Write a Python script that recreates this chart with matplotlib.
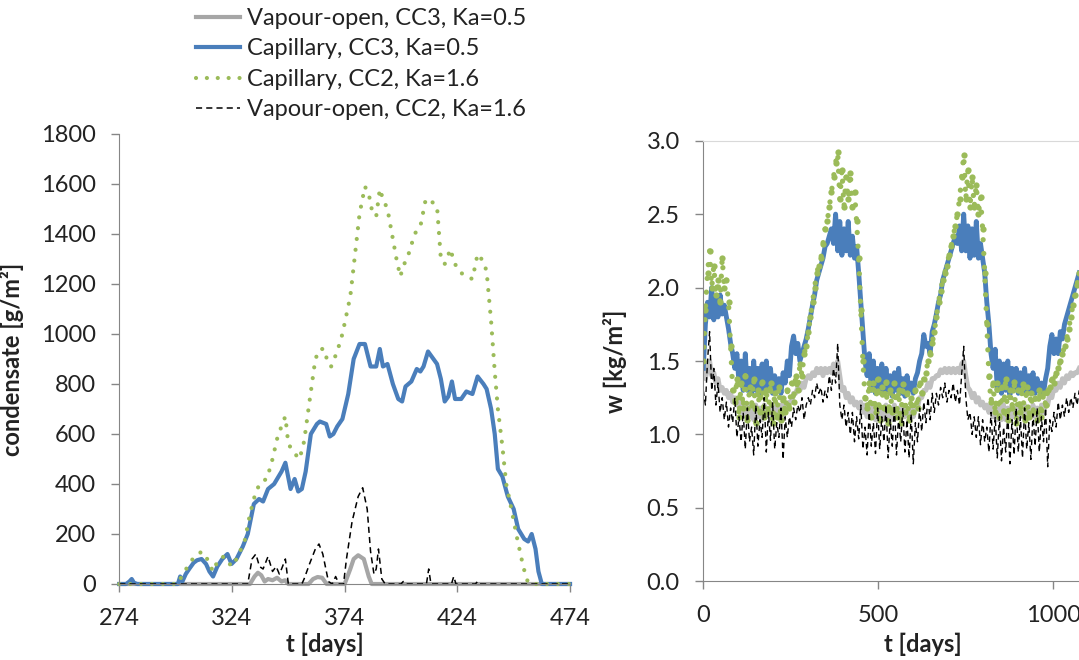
import numpy as np
import matplotlib
matplotlib.use("Agg")
import matplotlib.pyplot as plt

plt.rcParams['font.family'] = ['Lato', 'DejaVu Sans']

GRAY = "#a6a6a6"
BLUE = "#4a7ebb"
GREEN = "#9bbb59"
SPINE = "#868686"

labels = ["Vapour-open, CC3, Ka=0.5", "Capillary, CC3, Ka=0.5",
          "Capillary, CC2, Ka=1.6", "Vapour-open, CC2, Ka=1.6"]

# ---- left panel: condensate [g/m2] vs t [days]
vap3_t = [274, 332, 334, 335.5, 337, 338.5, 340, 342, 344, 346, 347.5, 349, 358, 360, 362,
          364, 366, 374, 376.5, 378, 380, 382.5, 384.7, 386, 474]
vap3_c = [0, 0, 30, 45, 35, 10, 20, 15, 25, 10, 15, 0, 0, 20, 28,
          25, 0, 0, 60, 100, 115, 100, 30, 0, 0]

cap3_t = [274, 277, 278.5, 279.5, 280.5, 282, 300, 301, 302, 303.5, 305, 307, 308.5, 310.5,
          312.5, 314, 315.6, 317.5, 319.7, 322, 323.8, 326, 328.8, 331, 333.7, 336, 337.8,
          340, 342.7, 346, 347.7, 350, 351.8, 353.4, 355, 356.7, 359, 361.7, 363, 365.8,
          367.4, 369, 370.7, 373, 375.6, 378, 380.6, 383, 385.5, 388, 389.6, 391, 393,
          395.4, 397.8, 399.5, 401, 403.6, 406, 407.6, 409, 411, 412.6, 415, 416.7, 418.4,
          420, 421.6, 423, 425.7, 428, 430.7, 433, 435.6, 437, 439, 440.6, 442, 444, 446.4,
          449, 451, 453.7, 455.4, 457, 458.7, 460, 461.5, 474]
cap3_c = [0, 0, 10, 20, 5, 0, 0, 30, 10, 40, 60, 85, 95, 100,
          80, 50, 30, 70, 100, 120, 80, 100, 150, 200, 320, 340, 330,
          380, 400, 450, 485, 380, 420, 370, 380, 450, 600, 640, 650, 640,
          590, 600, 630, 660, 760, 900, 960, 960, 870, 870, 940, 870, 880,
          800, 740, 730, 790, 810, 860, 850, 870, 930, 910, 880, 820, 730,
          750, 810, 740, 740, 770, 760, 830, 800, 780, 700, 600, 460, 430, 350,
          300, 220, 180, 170, 200, 140, 50, 0, 0]

cap2_t = [274, 300, 301.6, 303, 305, 307.4, 309, 310.7, 313, 315.6, 318, 320.5, 322, 324,
          326, 329.6, 332, 334.6, 337, 339.5, 342, 344, 346.7, 347.7, 349, 352, 354, 356,
          358.4, 361, 363, 365, 366.6, 368, 370.7, 373, 376.5, 379, 380.6, 383, 384.7, 386,
          388, 389.6, 391, 393, 395.4, 397, 398.7, 400, 402.8, 405, 407.6, 410, 412.6, 415,
          416.7, 418.4, 421, 422.4, 424.8, 428, 430.7, 433, 435.6, 437, 439, 440.6, 442,
          444, 445.7, 448, 450.6, 453, 454.7, 456, 474]
cap2_c = [0, 0, 30, 50, 80, 110, 120, 130, 100, 50, 100, 110, 90, 70,
          100, 170, 280, 370, 410, 420, 500, 580, 650, 670, 560, 520, 500, 570,
          730, 900, 940, 940, 880, 870, 930, 1000, 1150, 1350, 1480, 1590, 1560, 1500,
          1470, 1580, 1540, 1500, 1380, 1300, 1230, 1270, 1330, 1400, 1430, 1540, 1530, 1510,
          1300, 1280, 1340, 1290, 1250, 1230, 1220, 1320, 1290, 1250, 1050, 850, 700,
          550, 400, 300, 180, 80, 20, 0, 0]

vap2_t = [274, 331, 332.9, 334.6, 336.2, 337.8, 340, 342, 343.6, 345, 346, 347.7, 349, 355,
          356, 358.4, 361, 362.6, 364.3, 366.8, 368.5, 370, 371.5, 373.5, 374.8, 377.3, 380,
          382, 384, 385.5, 387, 388, 389, 390.5, 392, 399, 400, 401, 410.3, 411.3, 412.3,
          421.4, 422.4, 423.4, 432, 433, 434, 474]
vap2_c = [0, 0, 100, 120, 70, 60, 110, 50, 70, 40, 60, 100, 0, 0,
          20, 80, 140, 160, 120, 10, 0, 30, 0, 0, 100, 250, 350,
          385, 300, 130, 40, 60, 140, 20, 0, 0, 10, 0, 0, 60, 0,
          0, 30, 0, 0, 10, 0, 0]

# ---- right panel: w [kg/m2], one value every 6 days from day 0
w_days = np.arange(0, 1080, 6)
w_vap3 = [1.42, 1.38, 1.45, 1.50, 1.40, 1.42, 1.35, 1.38, 1.30, 1.32,
          1.28, 1.30, 1.25, 1.28, 1.22, 1.25, 1.20, 1.22, 1.15, 1.20,
          1.12, 1.20, 1.12, 1.18, 1.10, 1.20, 1.12, 1.18, 1.10, 1.20,
          1.12, 1.18, 1.12, 1.20, 1.12, 1.18, 1.15, 1.20, 1.12, 1.20,
          1.18, 1.22, 1.22, 1.28, 1.28, 1.32, 1.30, 1.35, 1.32, 1.38,
          1.40, 1.38, 1.42, 1.40, 1.45, 1.42, 1.45, 1.40, 1.45, 1.42,
          1.45, 1.42, 1.48, 1.45, 1.50, 1.40, 1.30, 1.32, 1.25, 1.28,
          1.22, 1.25, 1.20, 1.22, 1.18, 1.22, 1.15, 1.20, 1.12, 1.20,
          1.12, 1.18, 1.10, 1.20, 1.12, 1.18, 1.10, 1.20, 1.12, 1.18,
          1.10, 1.20, 1.12, 1.18, 1.12, 1.20, 1.12, 1.18, 1.12, 1.18,
          1.12, 1.18, 1.18, 1.25, 1.25, 1.30, 1.30, 1.35, 1.32, 1.38,
          1.38, 1.40, 1.40, 1.44, 1.42, 1.45, 1.42, 1.45, 1.42, 1.45,
          1.42, 1.45, 1.42, 1.48, 1.50, 1.40, 1.32, 1.30, 1.25, 1.28,
          1.22, 1.25, 1.20, 1.22, 1.18, 1.20, 1.15, 1.20, 1.12, 1.18,
          1.10, 1.18, 1.10, 1.20, 1.10, 1.18, 1.10, 1.20, 1.12, 1.18,
          1.10, 1.18, 1.12, 1.20, 1.12, 1.18, 1.12, 1.20, 1.12, 1.18,
          1.12, 1.20, 1.15, 1.22, 1.20, 1.28, 1.25, 1.32, 1.30, 1.35,
          1.32, 1.38, 1.35, 1.40, 1.38, 1.42, 1.40, 1.42, 1.42, 1.45]
w_cap3 = [1.45, 1.75, 1.90, 1.80, 2.00, 1.78, 1.92, 1.80, 1.95, 1.82,
          1.88, 1.80, 1.72, 1.62, 1.55, 1.45, 1.55, 1.35, 1.50, 1.30,
          1.55, 1.30, 1.45, 1.28, 1.50, 1.30, 1.45, 1.28, 1.48, 1.30,
          1.50, 1.30, 1.45, 1.28, 1.40, 1.30, 1.38, 1.28, 1.42, 1.35,
          1.50, 1.40, 1.60, 1.67, 1.55, 1.62, 1.50, 1.55, 1.60, 1.65,
          1.72, 1.80, 1.88, 1.95, 2.05, 2.10, 2.15, 2.20, 2.28, 2.30,
          2.35, 2.40, 2.30, 2.50, 2.25, 2.45, 2.22, 2.40, 2.25, 2.45,
          2.22, 2.35, 2.20, 2.28, 2.10, 1.90, 1.70, 1.50, 1.40, 1.55,
          1.30, 1.50, 1.28, 1.45, 1.30, 1.48, 1.28, 1.45, 1.30, 1.40,
          1.26, 1.42, 1.30, 1.45, 1.28, 1.38, 1.26, 1.40, 1.30, 1.35,
          1.28, 1.38, 1.42, 1.50, 1.55, 1.68, 1.60, 1.62, 1.55, 1.70,
          1.75, 1.82, 1.90, 1.95, 2.05, 2.10, 2.15, 2.20, 2.25, 2.30,
          2.35, 2.30, 2.42, 2.25, 2.50, 2.25, 2.42, 2.20, 2.40, 2.22,
          2.45, 2.20, 2.30, 2.20, 2.10, 1.90, 1.75, 1.55, 1.45, 1.58,
          1.30, 1.50, 1.28, 1.48, 1.30, 1.50, 1.27, 1.45, 1.30, 1.45,
          1.28, 1.42, 1.30, 1.45, 1.28, 1.40, 1.30, 1.42, 1.28, 1.38,
          1.30, 1.35, 1.28, 1.38, 1.45, 1.60, 1.68, 1.55, 1.65, 1.55,
          1.70, 1.65, 1.75, 1.80, 1.85, 1.90, 1.95, 2.00, 2.05, 2.10]
w_cap2 = [1.50, 1.85, 2.10, 2.25, 2.00, 2.15, 1.95, 2.05, 1.90, 2.20,
          2.00, 2.05, 1.90, 1.60, 1.30, 1.22, 1.38, 1.12, 1.35, 1.18,
          1.40, 1.10, 1.32, 1.20, 1.38, 1.08, 1.30, 1.15, 1.36, 1.12,
          1.30, 1.15, 1.35, 1.08, 1.28, 1.12, 1.32, 1.10, 1.25, 1.15,
          1.30, 1.18, 1.35, 1.22, 1.40, 1.30, 1.48, 1.40, 1.55, 1.60,
          1.70, 1.80, 1.90, 2.00, 2.10, 2.15, 2.20, 2.30, 2.40, 2.45,
          2.55, 2.65, 2.75, 2.85, 2.92, 2.60, 2.80, 2.55, 2.75, 2.60,
          2.78, 2.55, 2.65, 2.45, 2.20, 1.85, 1.50, 1.25, 1.18, 1.35,
          1.12, 1.35, 1.15, 1.38, 1.10, 1.32, 1.18, 1.36, 1.08, 1.30,
          1.15, 1.35, 1.12, 1.30, 1.08, 1.34, 1.15, 1.28, 1.10, 1.25,
          1.15, 1.30, 1.18, 1.35, 1.28, 1.38, 1.42, 1.50, 1.55, 1.62,
          1.70, 1.80, 1.90, 1.98, 2.05, 2.10, 2.15, 2.22, 2.28, 2.35,
          2.42, 2.50, 2.60, 2.75, 2.90, 2.60, 2.80, 2.55, 2.75, 2.55,
          2.70, 2.50, 2.62, 2.40, 2.10, 1.75, 1.40, 1.22, 1.35, 1.15,
          1.35, 1.12, 1.32, 1.15, 1.38, 1.10, 1.30, 1.18, 1.36, 1.08,
          1.30, 1.15, 1.34, 1.10, 1.32, 1.12, 1.28, 1.15, 1.25, 1.10,
          1.30, 1.12, 1.28, 1.20, 1.30, 1.32, 1.38, 1.35, 1.42, 1.45,
          1.50, 1.55, 1.60, 1.65, 1.72, 1.80, 1.88, 1.95, 2.02, 2.10]
w_vap2 = [1.30, 1.20, 1.50, 1.70, 1.30, 1.45, 1.20, 1.35, 1.15, 1.25,
          1.10, 1.22, 1.05, 1.18, 1.08, 1.25, 0.98, 1.12, 0.95, 1.15,
          0.90, 1.18, 0.95, 1.05, 0.86, 1.20, 0.92, 1.10, 0.98, 1.25,
          0.88, 1.15, 0.96, 1.22, 0.90, 1.08, 0.98, 1.18, 0.83, 1.12,
          0.98, 1.12, 1.05, 1.18, 1.10, 1.20, 1.15, 1.25, 1.10, 1.20,
          1.25, 1.20, 1.30, 1.25, 1.35, 1.28, 1.32, 1.22, 1.30, 1.25,
          1.40, 1.30, 1.45, 1.35, 1.62, 1.20, 1.10, 1.20, 1.05, 1.15,
          1.00, 1.15, 0.95, 1.12, 0.97, 1.20, 0.90, 1.05, 0.86, 1.15,
          0.92, 1.08, 0.87, 1.18, 0.90, 1.12, 0.95, 1.20, 0.84, 1.10,
          0.92, 1.20, 0.86, 1.12, 0.95, 1.18, 0.88, 1.10, 0.84, 1.14,
          0.80, 1.08, 0.95, 1.18, 1.02, 1.22, 1.08, 1.25, 1.10, 1.28,
          1.15, 1.28, 1.20, 1.32, 1.25, 1.35, 1.22, 1.30, 1.25, 1.35,
          1.22, 1.30, 1.20, 1.40, 1.60, 1.25, 1.10, 1.15, 1.00, 1.12,
          0.98, 1.12, 0.93, 1.10, 0.95, 1.05, 0.88, 1.15, 0.90, 1.12,
          0.84, 1.12, 0.82, 1.05, 0.88, 1.15, 0.80, 1.10, 0.86, 1.18,
          0.88, 1.12, 0.84, 1.18, 0.90, 1.08, 0.83, 1.14, 0.92, 1.18,
          0.88, 1.12, 0.95, 1.18, 0.78, 1.10, 1.02, 1.15, 1.05, 1.22,
          1.10, 1.20, 1.12, 1.25, 1.15, 1.25, 1.18, 1.28, 1.20, 1.30]

FS = 17
TXT = '#222222'
W, H = 1079, 660
fig = plt.figure(figsize=(W/100, H/100), dpi=100)
# axes boxes in pixels (left, top, right, bottom)
ax1 = fig.add_axes([119.3/W, 1-584/H, (570-119.3)/W, (584-134)/H])
ax2 = fig.add_axes([703.3/W, 1-581.3/H, 385/W, (581.3-140.7)/H])

dots = (0, (0.01, 2.6))
dash = (0, (4, 2.7))

l1, = ax1.plot(vap3_t, vap3_c, color=GRAY, lw=3, clip_on=False, solid_joinstyle='round')
l2, = ax1.plot(cap3_t, cap3_c, color=BLUE, lw=3, clip_on=False, solid_joinstyle='round')
l3, = ax1.plot(cap2_t, cap2_c, color=GREEN, lw=3, ls=dots, dash_capstyle='round', clip_on=False)
l4, = ax1.plot(vap2_t, vap2_c, color='black', lw=1.1, ls=dash, clip_on=False)

ax2.plot(w_days, w_vap3, color="#c0c0c0", lw=3.5)
ax2.plot(w_days, w_cap3, color=BLUE, lw=3.5)
ax2.plot(w_days, w_cap2, color=GREEN, lw=3.8, ls=dots, dash_capstyle='round',
         marker='o', ms=4.5, mew=0)
ax2.plot(w_days, w_vap2, color='black', lw=1.0, ls=dash)

ax1.set_xlim(274, 474)
ax1.set_ylim(0, 1800)
ax1.set_xticks([274, 324, 374, 424, 474])
ax1.set_yticks(range(0, 1801, 200))
ax2.set_xlim(0, 1100)
ax2.set_ylim(0, 3.0)
ax2.set_xticks([0, 500, 1000])
ax2.set_yticks([0, 0.5, 1.0, 1.5, 2.0, 2.5, 3.0])
ax2.set_yticklabels(["0.0", "0.5", "1.0", "1.5", "2.0", "2.5", "3.0"])

for ax in (ax1, ax2):
    ax.spines['right'].set_visible(False)
    ax.spines['left'].set_color(SPINE)
    ax.spines['bottom'].set_color(SPINE)
    ax.tick_params(direction='out', length=6, width=1, color=SPINE,
                   labelsize=FS, labelcolor=TXT)
    ax.tick_params(axis='x', pad=11)
    ax.tick_params(axis='y', pad=11)
ax1.spines['top'].set_visible(False)
ax2.spines['top'].set_color('#d9d9d9')

ax1.set_xlabel("t [days]", fontsize=FS, fontweight='bold', color=TXT)
ax1.set_ylabel("condensate [g/m²]", fontsize=FS, fontweight='bold', color=TXT)
ax2.set_xlabel("t [days]", fontsize=FS, fontweight='bold', color=TXT)
ax2.set_ylabel("w [kg/m²]", fontsize=FS, fontweight='bold', color=TXT)
ax1.xaxis.set_label_coords(0.456, -0.109)
ax1.yaxis.set_label_coords(-0.211, 0.5)
ax2.xaxis.set_label_coords(0.571, -0.117)
ax2.yaxis.set_label_coords(-0.198, 0.5)

fig.legend([l1, l2, l3, l4], labels, loc='upper left',
           bbox_to_anchor=(196/W, 1-8/H), frameon=False, fontsize=FS,
           handlelength=1.85, handletextpad=0.3, labelspacing=0.4, borderpad=0,
           borderaxespad=0, labelcolor=TXT)

fig.savefig("out.png", dpi=100)
